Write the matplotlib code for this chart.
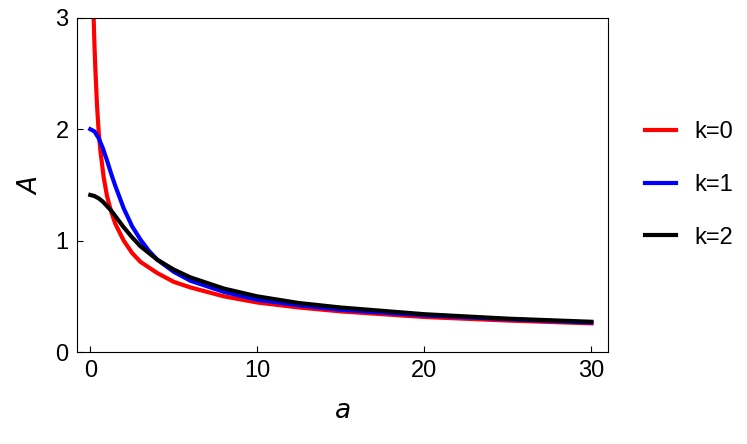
import numpy as np
import matplotlib.pyplot as plt

plt.rcParams['font.family'] = ['Liberation Sans', 'DejaVu Sans']

# values
a0 = [0.2, 0.25, 0.3, 0.4, 0.5, 0.6, 0.8, 1.0, 1.25, 1.5, 2.0, 2.5, 3.0, 4.0, 5.0, 6.0, 8.0, 10.0, 12.5, 15.0, 20.0, 25.0, 30.0]
A0 = [3.0, 2.75, 2.55, 2.22, 1.98, 1.81, 1.57, 1.40, 1.26, 1.15, 1.00, 0.89, 0.81, 0.71, 0.63, 0.58, 0.50, 0.445, 0.40, 0.365, 0.315, 0.283, 0.258]

a1 = [0.0, 0.25, 0.5, 0.75, 1.0, 1.25, 1.5, 2.0, 2.5, 3.0, 3.5, 4.0, 5.0, 6.0, 8.0, 10.0, 12.5, 15.0, 20.0, 25.0, 30.0]
A1 = [2.0, 1.98, 1.92, 1.83, 1.72, 1.60, 1.49, 1.29, 1.13, 1.01, 0.91, 0.83, 0.72, 0.64, 0.54, 0.47, 0.42, 0.38, 0.33, 0.295, 0.265]

a2 = [0.0, 0.25, 0.5, 0.75, 1.0, 1.25, 1.5, 2.0, 2.5, 3.0, 3.5, 4.0, 5.0, 6.0, 8.0, 10.0, 12.5, 15.0, 20.0, 25.0, 30.0]
A2 = [1.41, 1.40, 1.38, 1.35, 1.31, 1.27, 1.22, 1.12, 1.03, 0.95, 0.89, 0.83, 0.74, 0.67, 0.57, 0.50, 0.44, 0.40, 0.34, 0.30, 0.272]

fig = plt.figure(figsize=(7.47, 4.44), dpi=100)
ax = fig.add_axes([0.103, 0.207, 0.711, 0.753])
ax.plot(a0, A0, color='red', lw=3, label='k=0')
ax.plot(a1, A1, color='blue', lw=3, label='k=1')
ax.plot(a2, A2, color='black', lw=3, label='k=2')
ax.set_xlim(-0.8, 31)
ax.set_ylim(0, 3)
ax.set_xticks([0, 10, 20, 30])
ax.set_yticks([0, 1, 2, 3])
ax.tick_params(labelsize=17, direction='in', length=4, pad=6)
ax.set_xlabel('$a$', fontsize=19, labelpad=12)
ax.set_ylabel('$A$', fontsize=19, labelpad=10)
ax.legend(loc='center left', bbox_to_anchor=(1.03, 0.5), frameon=False,
          fontsize=17, handlelength=1.3, labelspacing=1.3)
fig.savefig('out.png')
